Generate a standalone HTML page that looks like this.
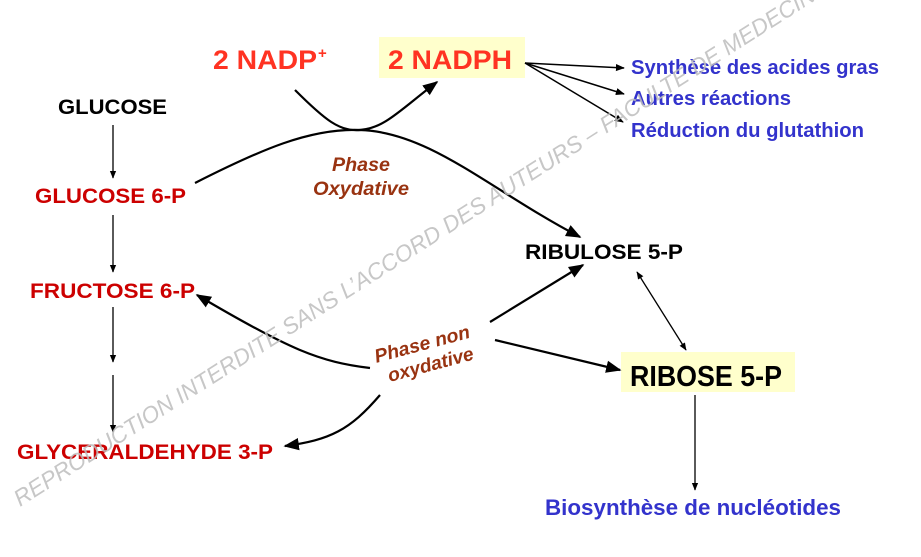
<!DOCTYPE html>
<html><head><meta charset="utf-8"><style>body{margin:0;background:#fff}svg{display:block}</style></head><body>
<svg width="921" height="557" viewBox="0 0 921 557" xmlns="http://www.w3.org/2000/svg" font-family="Liberation Sans, sans-serif" font-weight="bold">
<defs>
<marker id="a" viewBox="0 0 10 10" refX="9" refY="5" markerWidth="7" markerHeight="7" orient="auto-start-reverse"><path d="M0,1 L10,5 L0,9 z" fill="#000"/></marker>
<marker id="s" viewBox="0 0 10 10" refX="9" refY="5" markerWidth="6" markerHeight="6" orient="auto-start-reverse"><path d="M0,1 L10,5 L0,9 z" fill="#000"/></marker>
</defs>
<rect x="379" y="37" width="146" height="41" fill="#ffffcc"/>
<rect x="621" y="352" width="174" height="40" fill="#ffffcc"/>
<text x="213" y="69" font-size="27" fill="#ff3322" textLength="104" lengthAdjust="spacingAndGlyphs">2  NADP</text>
<text x="318" y="58" font-size="15" fill="#ff3322">+</text>
<text x="388" y="69" font-size="27" fill="#ff3322" textLength="124" lengthAdjust="spacingAndGlyphs">2  NADPH</text>
<g fill="#3333cc" font-size="20">
<text x="631" y="74" textLength="248" lengthAdjust="spacingAndGlyphs">Synthèse des acides gras</text>
<text x="631" y="105" textLength="160" lengthAdjust="spacingAndGlyphs">Autres réactions</text>
<text x="631" y="137" textLength="233" lengthAdjust="spacingAndGlyphs">Réduction du glutathion</text>
<text x="545" y="515" font-size="22" textLength="296" lengthAdjust="spacingAndGlyphs">Biosynthèse de nucléotides</text>
</g>
<g stroke="#000" stroke-width="1.5" fill="none" marker-end="url(#s)">
<line x1="525" y1="63" x2="624" y2="68"/>
<line x1="525" y1="63" x2="624" y2="94"/>
<line x1="525" y1="63" x2="623" y2="122"/>
</g>
<text x="58" y="114" font-size="21" fill="#000" textLength="109" lengthAdjust="spacingAndGlyphs">GLUCOSE</text>
<g fill="#cc0000" font-size="21">
<text x="35" y="203" textLength="151" lengthAdjust="spacingAndGlyphs">GLUCOSE 6-P</text>
<text x="30" y="298" textLength="165" lengthAdjust="spacingAndGlyphs">FRUCTOSE 6-P</text>
<text x="17" y="459" textLength="256" lengthAdjust="spacingAndGlyphs">GLYCERALDEHYDE 3-P</text>
</g>
<text x="525" y="259" font-size="21" fill="#000" textLength="158" lengthAdjust="spacingAndGlyphs">RIBULOSE 5-P</text>
<text x="630" y="386" font-size="29" fill="#000" textLength="152" lengthAdjust="spacingAndGlyphs">RIBOSE 5-P</text>
<g stroke="#000" stroke-width="1.3" fill="none" marker-end="url(#s)">
<line x1="113" y1="125" x2="113" y2="178"/>
<line x1="113" y1="215" x2="113" y2="272"/>
<line x1="113" y1="307" x2="113" y2="362"/>
<line x1="113" y1="375" x2="113" y2="432"/>
<line x1="695" y1="395" x2="695" y2="490"/>
<line x1="637" y1="272" x2="686" y2="350" marker-start="url(#s)"/>
</g>
<g stroke="#000" stroke-width="2.2" fill="none" marker-end="url(#a)">
<path d="M195,183 C260,150 310,128 360,130 C430,132 490,190 580,237"/>
<path d="M295,90 C325,120 340,132 360,130 C385,128 400,110 437,82"/>
<line x1="490" y1="322" x2="583" y2="265"/>
<line x1="495" y1="340" x2="620" y2="370"/>
<path d="M370,368 C320,362 290,350 197,295"/>
<path d="M380,395 C350,430 330,440 285,446"/>
</g>
<g fill="#993311" font-style="italic" font-size="19">
<text x="361" y="171" text-anchor="middle" textLength="58" lengthAdjust="spacingAndGlyphs">Phase</text>
<text x="361" y="195" text-anchor="middle" textLength="96" lengthAdjust="spacingAndGlyphs">Oxydative</text>
<g transform="rotate(-15 425 355)">
<text x="425" y="350" text-anchor="middle" textLength="98" lengthAdjust="spacingAndGlyphs">Phase non</text>
<text x="428" y="372" text-anchor="middle" textLength="88" lengthAdjust="spacingAndGlyphs">oxydative</text>
</g>
</g>
<text x="0" y="0" transform="translate(20,507) rotate(-32.5)" font-size="23" font-style="italic" font-weight="normal" fill="#bdbdbd" fill-opacity="0.85" textLength="960" lengthAdjust="spacingAndGlyphs">REPRODUCTION INTERDITE SANS L’ACCORD DES AUTEURS – FACULTE DE MEDECINE</text>
</svg>
</body></html>
